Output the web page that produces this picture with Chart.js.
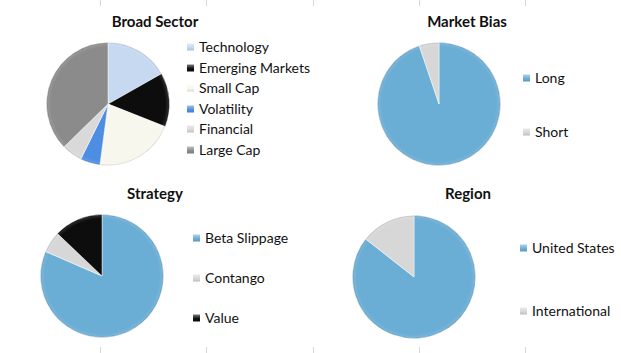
<!DOCTYPE html>
<html>
<head>
<meta charset="utf-8">
<script src="https://cdn.jsdelivr.net/npm/chart.js@4.4.1/dist/chart.umd.min.js"></script>
<style>
  html, body { margin: 0; padding: 0; background: #fff; overflow: hidden; }
  body { width: 621px; height: 353px; position: relative; font-family: Lato, sans-serif; color: #111; }
  .pie { position: absolute; }
  .ttl { position: absolute; font: bold 15px Lato, sans-serif; transform: translate(-50%, -50%); white-space: nowrap; }
  .lgd { position: absolute; margin: 0; padding: 0; list-style: none; font: 14px Lato, sans-serif; }
  .lgd li { position: absolute; left: 0; white-space: nowrap; transform: translateY(-50%); display: flex; align-items: center; }
  .lgd .box { width: 7px; height: 7px; margin-right: 5px; position: relative; top: 1px; }
  .tick { position: absolute; width: 1px; height: 6px; background: #d6d6d6; }
</style>
</head>
<body>

<script>
// data
const sectorLabels = ['Technology', 'Emerging Markets', 'Small Cap', 'Volatility', 'Financial', 'Large Cap'];
const sectorValues = [16.8, 14.2, 21.1, 5.2, 5.4, 37.3];
const sectorColors = ['#c6d9f1', '#0d0d0d', '#f8f7ee', '#4e8ee2', '#d9d9d9', '#8b8b8b'];

const biasLabels = ['Long', 'Short'];
const biasValues = [94.8, 5.2];

const strategyLabels = ['Beta Slippage', 'Contango', 'Value'];
const strategyValues = [81.5, 5.6, 12.9];

const regionLabels = ['United States', 'International'];
const regionValues = [85.6, 14.4];

const blue = '#6aadd5';
const grey = '#d7d7d7';
const black = '#0d0d0d';

// layout of the four panels
const panels = [
  { title: 'Broad Sector', labels: sectorLabels, values: sectorValues, colors: sectorColors,
    tx: 155, ty: 21, cx: 107.5, cy: 104, lx: 187, ly: 46, gap: 20.6 },
  { title: 'Market Bias', labels: biasLabels, values: biasValues, colors: [blue, grey],
    tx: 467, ty: 21, cx: 438.5, cy: 104, lx: 523, ly: 77, gap: 54 },
  { title: 'Strategy', labels: strategyLabels, values: strategyValues, colors: [blue, grey, black],
    tx: 155, ty: 193, cx: 101.5, cy: 276, lx: 193, ly: 237, gap: 40 },
  { title: 'Region', labels: regionLabels, values: regionValues, colors: [blue, grey],
    tx: 468, ty: 193, cx: 413.5, cy: 277, lx: 520, ly: 247, gap: 63 }
];

const R = 61.5;
const SIZE = 140;

function mix(hex, to, t) {
  const a = parseInt(hex.slice(1), 16), b = parseInt(to.slice(1), 16);
  const c = [16, 8, 0].map(s => Math.round(((a >> s) & 255) * (1 - t) + ((b >> s) & 255) * t));
  return 'rgb(' + c.join(',') + ')';
}

// soft bevel like the original office chart
function bevel(ctx) {
  const base = ctx.dataset.colors[ctx.dataIndex];
  const area = ctx.chart.chartArea;
  if (!area) return base;
  const x = (area.left + area.right) / 2, y = (area.top + area.bottom) / 2;
  const g = ctx.chart.ctx.createRadialGradient(x, y, 0, x, y, R);
  g.addColorStop(0, base);
  g.addColorStop(0.93, base);
  g.addColorStop(0.975, mix(base, '#ffffff', 0.1));
  g.addColorStop(1, mix(base, '#000000', 0.18));
  return g;
}

[100, 206, 313, 419, 525].forEach(x => {
  [0, 347].forEach(y => {
    const d = document.createElement('div');
    d.className = 'tick';
    d.style.left = x + 'px';
    d.style.top = y + 'px';
    document.body.appendChild(d);
  });
});

panels.forEach(p => {
  const t = document.createElement('div');
  t.className = 'ttl';
  t.textContent = p.title;
  t.style.left = p.tx + 'px';
  t.style.top = p.ty + 'px';
  document.body.appendChild(t);

  const canvas = document.createElement('canvas');
  canvas.className = 'pie';
  canvas.width = SIZE;
  canvas.height = SIZE;
  canvas.style.left = (p.cx - SIZE / 2) + 'px';
  canvas.style.top = (p.cy - SIZE / 2) + 'px';
  document.body.appendChild(canvas);

  const chart = new Chart(canvas, {
    type: 'pie',
    data: {
      labels: p.labels,
      datasets: [{
        data: p.values,
        colors: p.colors,
        backgroundColor: bevel,
        borderColor: 'rgba(255,255,255,0.45)',
        borderWidth: 1,
        hoverOffset: 0
      }]
    },
    options: {
      responsive: false,
      animation: false,
      radius: R,
      layout: { padding: 0 },
      plugins: {
        legend: { display: false },
        tooltip: { enabled: false },
        title: { display: false }
      }
    }
  });

  // html legend built from the chart's own legend items
  const ul = document.createElement('ul');
  ul.className = 'lgd';
  ul.style.left = p.lx + 'px';
  ul.style.top = p.ly + 'px';
  const items = Chart.overrides.pie.plugins.legend.labels.generateLabels(chart);
  items.forEach((item, i) => {
    const li = document.createElement('li');
    li.style.top = (i * p.gap) + 'px';
    const box = document.createElement('span');
    box.className = 'box';
    const c = p.colors[i];
    box.style.background = 'linear-gradient(' + mix(c, '#ffffff', 0.45) + ', ' + c + ' 60%, ' + mix(c, '#000000', 0.12) + ')';
    li.appendChild(box);
    li.appendChild(document.createTextNode(item.text));
    ul.appendChild(li);
  });
  document.body.appendChild(ul);
});
</script>
</body>
</html>
